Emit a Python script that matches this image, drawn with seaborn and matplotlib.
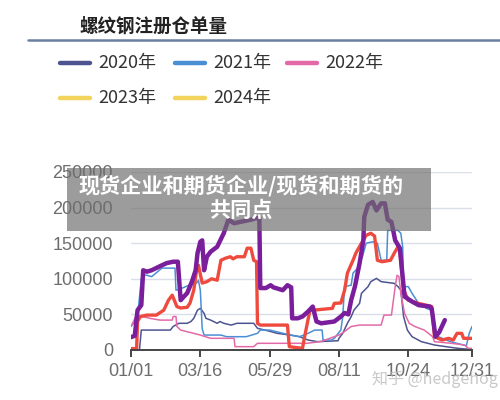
import matplotlib
matplotlib.use("Agg")
import matplotlib.pyplot as plt
import seaborn as sns
import pandas as pd
from matplotlib.lines import Line2D
from matplotlib.patches import Rectangle

sns.set_theme(style="white")
plt.rcParams['font.family'] = ['Noto Sans CJK SC', 'DejaVu Sans']

title = "螺纹钢注册仓单量"
overlay = "现货企业和期货企业/现货和期货的\n共同点"
watermark = "知乎 @hedgehog"
legend_labels = ["2020年", "2021年", "2022年", "2023年", "2024年"]
legend_colors = ["#4e5490", "#4a8fd4", "#e36aa6", "#f2d45c", "#f2d45c"]

tick_days = [0, 74, 148, 222, 296, 364]
tick_labels = ["01/01", "03/16", "05/29", "08/11", "10/24", "12/31"]
y_ticks = [0, 50000, 100000, 150000, 200000, 250000]

d2020 = [0, 9, 11, 42, 45, 51, 60, 64, 67, 71, 74, 78, 80, 85, 92, 95, 99, 107, 113, 131, 135, 149, 156, 170, 180,
         189, 199, 221, 222, 226, 231, 235, 238, 244, 246, 253, 256, 262, 267, 281, 285, 288, 291, 295, 300, 310,
         324, 349, 361, 364]
v2020 = [0, 0, 28000, 28000, 33000, 37500, 37500, 40000, 44500, 56000, 58500, 51500, 44500, 42000, 37500, 40000,
         37500, 35000, 37500, 37500, 30500, 26000, 23400, 21000, 18700, 14000, 11700, 13000, 16400, 23400, 37500,
         46800, 56000, 65500, 79600, 89000, 96000, 100600, 96000, 93600, 89000, 84000, 46800, 28000, 18700, 11700,
         7000, 2300, 1000, 0]

d2021 = [0, 4, 8, 11, 13, 17, 22, 33, 47, 48, 53, 62, 70, 72, 74, 76, 78, 96, 102, 123, 135, 138, 148, 170, 180,
         189, 196, 204, 205, 214, 217, 224, 226, 228, 235, 237, 242, 247, 251, 258, 263, 267, 273, 274, 285, 288,
         290, 291, 296, 300, 307, 316, 321, 325, 328, 341, 355, 358, 361, 364]
v2021 = [33000, 40000, 60000, 100000, 105000, 105000, 103000, 115000, 115000, 84000, 86000, 91000, 94000, 98000,
         84000, 30000, 21000, 21000, 18700, 18700, 23400, 28000, 28000, 21000, 18700, 23400, 28000, 28000, 14000,
         14000, 16400, 28000, 46800, 89000, 91000, 108000, 115000, 131000, 150000, 152000, 150000, 126000, 126000,
         168000, 168000, 164000, 145000, 89000, 89000, 79600, 65500, 58000, 56000, 28000, 18700, 11700, 7000, 6000,
         23400, 33000]

d2022 = [0, 5, 12, 20, 31, 44, 45, 48, 49, 53, 67, 74, 85, 110, 111, 131, 135, 188, 203, 217, 222, 228, 235, 244,
         267, 270, 278, 282, 284, 286, 288, 292, 297, 303, 313, 322, 324, 342, 356, 360, 364]
v2022 = [33000, 47000, 47000, 44500, 42000, 42000, 47000, 47000, 33000, 28000, 23400, 21000, 16400, 16400, 4700,
         4700, 9400, 9400, 12000, 18700, 21000, 26000, 33000, 35000, 35000, 49000, 49000, 89000, 105000, 103000,
         80000, 51500, 37500, 33000, 28000, 18700, 11700, 9400, 7000, 2300, 2300]

d2023 = [0, 6, 7, 10, 17, 27, 35, 40, 44, 49, 53, 60, 63, 67, 70, 72, 76, 81, 86, 92, 96, 101, 106, 109, 113, 121,
         124, 128, 131, 134, 135, 138, 167, 169, 183, 186, 191, 195, 215, 217, 224, 228, 231, 237, 240, 246, 251,
         256, 260, 263, 268, 277, 281, 285, 287, 291, 296, 307, 321, 324, 332, 339, 344, 348, 353, 355, 364]
v2023 = [2000, 2000, 40000, 47000, 49000, 49000, 56000, 70000, 77000, 61000, 59000, 60000, 66000, 84000, 112000,
         119000, 94000, 96000, 100000, 98000, 126000, 129000, 131000, 128000, 131000, 131000, 143000, 143000,
         126000, 124000, 37500, 35000, 35000, 4700, 2300, 23000, 56000, 56000, 58500, 65500, 66000, 84000, 108000,
         126000, 136000, 150000, 161000, 164000, 160000, 126000, 124000, 126000, 136000, 145000, 138000, 84000,
         70000, 65500, 61000, 18700, 14000, 16400, 14000, 23400, 23400, 16400, 16400]

d2024 = [0, 4, 7, 11, 13, 17, 22, 33, 38, 45, 50, 53, 60, 65, 69, 71, 74, 76, 78, 81, 85, 92, 99, 104, 110, 117,
         128, 133, 137, 138, 144, 149, 152, 162, 167, 171, 172, 178, 183, 189, 194, 198, 203, 217, 224, 228, 232,
         235, 239, 244, 248, 249, 253, 258, 262, 267, 271, 274, 278, 282, 287, 291, 292, 300, 307, 319, 321, 325,
         329, 335]
v2024 = [18000, 20000, 56000, 63000, 112000, 110000, 112000, 119000, 122000, 124000, 124000, 70000, 80000, 96000,
         112000, 136000, 152000, 154000, 112000, 131000, 138000, 145000, 164000, 183000, 178000, 180000, 183000,
         185000, 185000, 87000, 87000, 91000, 88000, 84000, 91000, 88000, 44500, 44500, 47000, 54000, 61000,
         40000, 37500, 40000, 47000, 52000, 50000, 70000, 89000, 122000, 154000, 187000, 204000, 208000, 196000,
         206000, 206000, 183000, 180000, 154000, 143000, 89000, 75000, 68000, 63000, 61000, 58000, 18700, 25000,
         42000]

series = [
    (d2020, v2020, "#4e5490", 1.1),
    (d2021, v2021, "#4a8fd4", 1.1),
    (d2022, v2022, "#e36aa6", 1.1),
    (d2023, v2023, "#ee4a3e", 2.4),
    (d2024, v2024, "#7a1e9c", 3.2),
]

fig = plt.figure(figsize=(5, 4), dpi=100)
fig.patch.set_facecolor("white")
ax = fig.add_axes([131 / 500, 50 / 400, 341 / 500, 178 / 400])

for days, vals, col, lw in series:
    df = pd.DataFrame({"day": days, "value": vals})
    sns.lineplot(data=df, x="day", y="value", color=col, linewidth=lw, ax=ax,
                 estimator=None, sort=False)

ax.set_xlim(0, 364)
ax.set_ylim(0, 250000)
ax.set_xlabel("")
ax.set_ylabel("")
ax.set_yticks(y_ticks)
ax.set_yticklabels([str(v) for v in y_ticks], fontsize=13, color="#6d6d6d", family="Liberation Sans")
ax.set_xticks(tick_days)
ax.set_xticklabels(tick_labels, fontsize=13, color="#6d6d6d", family="Liberation Sans")
ax.tick_params(axis="y", length=0, pad=13)
ax.tick_params(axis="x", length=5, width=1.4, color="#444444", pad=4, direction="out", bottom=True)
ax.grid(axis="y", color="#d9dee8", linewidth=1)
ax.grid(axis="x", visible=False)
for s in ["top", "right", "left"]:
    ax.spines[s].set_visible(False)
ax.spines["bottom"].set_color("#444444")
ax.spines["bottom"].set_linewidth(1.4)

def fx(px):
    return px / 500

def fy(py):
    return 1 - py / 400

fig.text(fx(79), fy(26), title, fontsize=13.3, fontweight="bold", color="#222222", va="center", ha="left")
fig.add_artist(Line2D([fx(28), 1], [fy(40), fy(40)], color="#6b7fa3", linewidth=1.8))

leg_pos = [(60, 63), (175, 63), (287, 63), (60, 98), (175, 98)]
for (lx, ly), lab, col in zip(leg_pos, legend_labels, legend_colors):
    fig.add_artist(Line2D([fx(lx), fx(lx + 30)], [fy(ly), fy(ly)], color=col, linewidth=3.2,
                          solid_capstyle="round"))
    fig.text(fx(lx + 38), fy(ly), lab, fontsize=13, color="#333333", va="center", ha="left")

fig.add_artist(Rectangle((fx(67), fy(231)), fx(431) - fx(67), fy(168) - fy(231),
                         transform=fig.transFigure, facecolor="#6e6e6e", alpha=0.68,
                         edgecolor="none", zorder=10))
fig.text(fx(241), fy(198), overlay, fontsize=15.2, fontweight="bold", color="white",
         ha="center", va="center", linespacing=1.2, zorder=11)

fig.text(fx(372), fy(379), watermark, fontsize=11.5, color="#bbbbbb", alpha=0.8,
         ha="left", va="center", zorder=11)

fig.savefig("out.png", dpi=100, facecolor="white")
